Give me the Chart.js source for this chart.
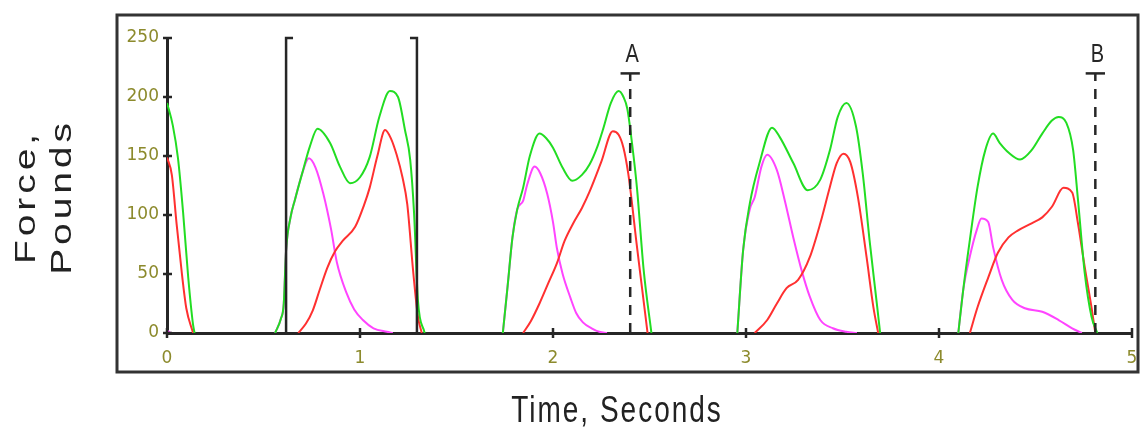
<!DOCTYPE html>
<html>
<head>
<meta charset="utf-8">
<script src="https://cdn.jsdelivr.net/npm/chart.js@4/dist/chart.umd.min.js"></script>
<style>
  body { margin: 0; background: #fff; }
  canvas { display: block; }
</style>
</head>
<body>
<canvas id="myChart" width="1141" height="434"></canvas>
<script>
// force traces, one array of [seconds, pounds] per step
let totalForce = [
  [[0,195],[0.03,176],[0.057,148],[0.083,103],[0.11,47],[0.135,7],[0.143,0]],
  [[0.56,0],[0.59,12],[0.605,25],[0.617,70],[0.64,98],[0.663,113],[0.705,138],[0.74,158],[0.78,173],[0.845,161],[0.896,141],[0.948,127],[1.0,132],[1.05,149],[1.10,183],[1.155,205],[1.197,200],[1.233,172],[1.26,147],[1.28,102],[1.30,28],[1.335,0]],
  [[1.74,0],[1.765,40],[1.79,81],[1.815,105],[1.845,123],[1.88,150],[1.93,169],[1.965,165],[2.0,157],[2.05,140],[2.10,129],[2.15,134],[2.19,143],[2.23,158],[2.26,173],[2.30,195],[2.34,205],[2.365,200],[2.385,190],[2.41,160],[2.435,123],[2.47,53],[2.51,0]],
  [[2.955,0],[2.985,70],[3.02,110],[3.07,144],[3.135,174],[3.175,166],[3.245,144],[3.32,121],[3.385,130],[3.435,155],[3.475,183],[3.52,195],[3.57,175],[3.605,135],[3.64,79],[3.68,22],[3.695,0]],
  [[4.10,0],[4.125,36],[4.16,79],[4.20,124],[4.24,155],[4.28,169],[4.315,161],[4.36,153],[4.42,147],[4.48,155],[4.535,169],[4.585,180],[4.62,183],[4.66,178],[4.695,155],[4.72,113],[4.755,51],[4.79,14],[4.82,0]],
];
let heelForce = [
  [[0,2],[0.02,0]],
  [[0.56,0],[0.59,12],[0.605,25],[0.617,70],[0.64,98],[0.663,113],[0.70,135],[0.735,148],[0.77,140],[0.81,118],[0.85,88],[0.88,60],[0.93,34],[0.97,20],[1.015,11],[1.07,4],[1.14,1],[1.17,0]],
  [[1.74,0],[1.765,40],[1.79,81],[1.815,105],[1.845,112],[1.865,125],[1.905,141],[1.935,135],[1.97,118],[2.0,94],[2.02,72],[2.05,50],[2.09,30],[2.12,17],[2.155,9],[2.2,4],[2.24,1],[2.28,0]],
  [[2.955,0],[2.985,70],[3.02,105],[3.045,115],[3.08,141],[3.11,151],[3.16,138],[3.20,113],[3.245,81],[3.29,52],[3.33,31],[3.385,11],[3.45,4],[3.52,1],[3.575,0]],
  [[4.10,0],[4.125,36],[4.16,65],[4.195,87],[4.22,97],[4.255,94],[4.28,73],[4.325,45],[4.38,28],[4.445,21],[4.535,18],[4.62,11],[4.69,4],[4.74,0]],
];
let toeForce = [
  [[0,149],[0.025,134],[0.05,92],[0.078,49],[0.10,21],[0.135,0]],
  [[0.68,0],[0.72,8],[0.755,19],[0.79,36],[0.83,55],[0.87,69],[0.91,78],[0.975,90],[1.02,108],[1.05,123],[1.09,150],[1.13,172],[1.16,165],[1.19,151],[1.22,132],[1.245,109],[1.275,53],[1.30,14],[1.32,0]],
  [[1.845,0],[1.885,10],[1.93,25],[1.975,42],[2.02,59],[2.06,78],[2.105,93],[2.15,106],[2.19,120],[2.25,145],[2.31,171],[2.34,168],[2.365,157],[2.39,135],[2.41,109],[2.43,80],[2.45,53],[2.49,0]],
  [[3.045,0],[3.11,11],[3.16,25],[3.21,38],[3.27,45],[3.33,64],[3.385,93],[3.435,124],[3.47,144],[3.505,152],[3.54,145],[3.58,115],[3.625,64],[3.66,22],[3.685,0]],
  [[4.16,0],[4.20,22],[4.255,47],[4.305,68],[4.36,81],[4.41,87],[4.48,93],[4.535,98],[4.585,107],[4.645,123],[4.69,119],[4.72,93],[4.755,56],[4.79,22],[4.81,0]],
];

let bracketTimes = [0.617, 1.295];
let bracketTop = 250;
let markerTimes = [2.40, 4.81];
let markerLabels = ["A", "B"];
let markerTop = 220;
let markerLabelValue = 236;

let xTicks = [0, 1, 2, 3, 4, 5];
let yTicks = [0, 50, 100, 150, 200, 250];

let olive = "#8c8a2c";
let ink = "#262626";

// flatten cycles, null point between them so no line is drawn along zero
function toPoints(cycles) {
  let out = [];
  cycles.forEach((c, i) => {
    c.forEach((p) => out.push({ x: p[0], y: p[1] }));
    if (i < cycles.length - 1) out.push({ x: c[c.length - 1][0] + 0.01, y: null });
  });
  return out;
}

function traceSet(cycles, color) {
  return {
    data: toPoints(cycles),
    borderColor: color,
    borderWidth: 2,
    pointRadius: 0,
    cubicInterpolationMode: "monotone",
    spanGaps: false,
  };
}

function plainSet(points, dash) {
  return {
    data: points,
    borderColor: ink,
    borderWidth: 2.5,
    borderDash: dash || [],
    pointRadius: 0,
    tension: 0,
    clip: false,
  };
}

let datasets = [];
// brackets round the second step
datasets.push(plainSet([{ x: bracketTimes[0] + 0.036, y: bracketTop }, { x: bracketTimes[0], y: bracketTop }, { x: bracketTimes[0], y: 0 }]));
datasets.push(plainSet([{ x: bracketTimes[1] - 0.036, y: bracketTop }, { x: bracketTimes[1], y: bracketTop }, { x: bracketTimes[1], y: 0 }]));
markerTimes.forEach((t) => {
  datasets.push(plainSet([{ x: t, y: 0 }, { x: t, y: markerTop }], [10, 8]));
  datasets.push(plainSet([{ x: t - 0.05, y: markerTop }, { x: t + 0.05, y: markerTop }]));
});
datasets.push(traceSet(totalForce, "#22dd22"));
datasets.push(traceSet(toeForce, "#ff3030"));
datasets.push(traceSet(heelForce, "#ff44ff"));

let decorations = {
  id: "decorations",
  afterDraw(chart) {
    let c = chart.ctx;
    let xs = chart.scales.x;
    let ys = chart.scales.y;
    let area = chart.chartArea;
    c.save();
    c.strokeStyle = ink;
    c.lineWidth = 2.5;
    xTicks.forEach((v) => {
      let px = xs.getPixelForValue(v);
      c.beginPath();
      c.moveTo(px, area.bottom - 5);
      c.lineTo(px, area.bottom + 5);
      c.stroke();
    });
    yTicks.forEach((v) => {
      let py = ys.getPixelForValue(v);
      c.beginPath();
      c.moveTo(area.left - 4, py);
      c.lineTo(area.left + 5, py);
      c.stroke();
    });
    // outer frame
    c.lineWidth = 3;
    c.strokeStyle = "#333";
    c.strokeRect(117, 15, 1021, 357);

    // marker letters
    c.fillStyle = ink;
    c.textAlign = "center";
    c.textBaseline = "middle";
    c.font = "20px 'Liberation Sans'";
    markerTimes.forEach((t, i) => {
      c.save();
      c.translate(xs.getPixelForValue(t) + 2, ys.getPixelForValue(markerLabelValue));
      c.scale(1, 1.3);
      c.fillText(markerLabels[i], 0, 0);
      c.restore();
    });

    // axis titles, stretched vertically like the original scan
    c.fillStyle = "#222";
    c.font = "28px 'Liberation Sans'";
    c.letterSpacing = "2px";
    c.save();
    c.translate(617, 412);
    c.scale(1, 1.35);
    c.fillText("Time, Seconds", 0, 0);
    c.restore();

    c.font = "30px 'Liberation Sans'";
    c.letterSpacing = "3px";
    c.save();
    c.translate(0, 197);
    c.scale(1, 1.3);
    c.rotate(-Math.PI / 2);
    c.fillText("Force,", 0, 27);
    c.fillText("Pounds", 0, 63);
    c.restore();
    c.restore();
  },
};

let myChart = new Chart(document.getElementById("myChart").getContext("2d"), {
  type: "line",
  data: { datasets: datasets },
  options: {
    responsive: false,
    animation: false,
    layout: { padding: { left: 0, right: 9, top: 38, bottom: 0 } },
    plugins: { legend: { display: false }, tooltip: { enabled: false } },
    scales: {
      x: {
        type: "linear",
        min: 0,
        max: 5,
        afterBuildTicks: (s) => { s.ticks = xTicks.map((v) => ({ value: v })); },
        ticks: { color: olive, font: { family: "DejaVu Sans", size: 17 }, padding: 15, maxRotation: 0 },
        grid: { display: false, drawTicks: false },
        border: { color: ink, width: 3 },
        afterFit: (s) => { s.height = 101; s.paddingLeft = 0; s.paddingRight = 0; },
      },
      y: {
        min: 0,
        max: 250,
        afterBuildTicks: (s) => { s.ticks = yTicks.map((v) => ({ value: v })); },
        ticks: { color: olive, font: { family: "DejaVu Sans", size: 17 }, padding: 8 },
        grid: { display: false, drawTicks: false },
        border: { color: ink, width: 3 },
        afterFit: (s) => { s.width = 167; s.paddingTop = 0; s.paddingBottom = 0; },
      },
    },
  },
  plugins: [decorations],
});
</script>
</body>
</html>
